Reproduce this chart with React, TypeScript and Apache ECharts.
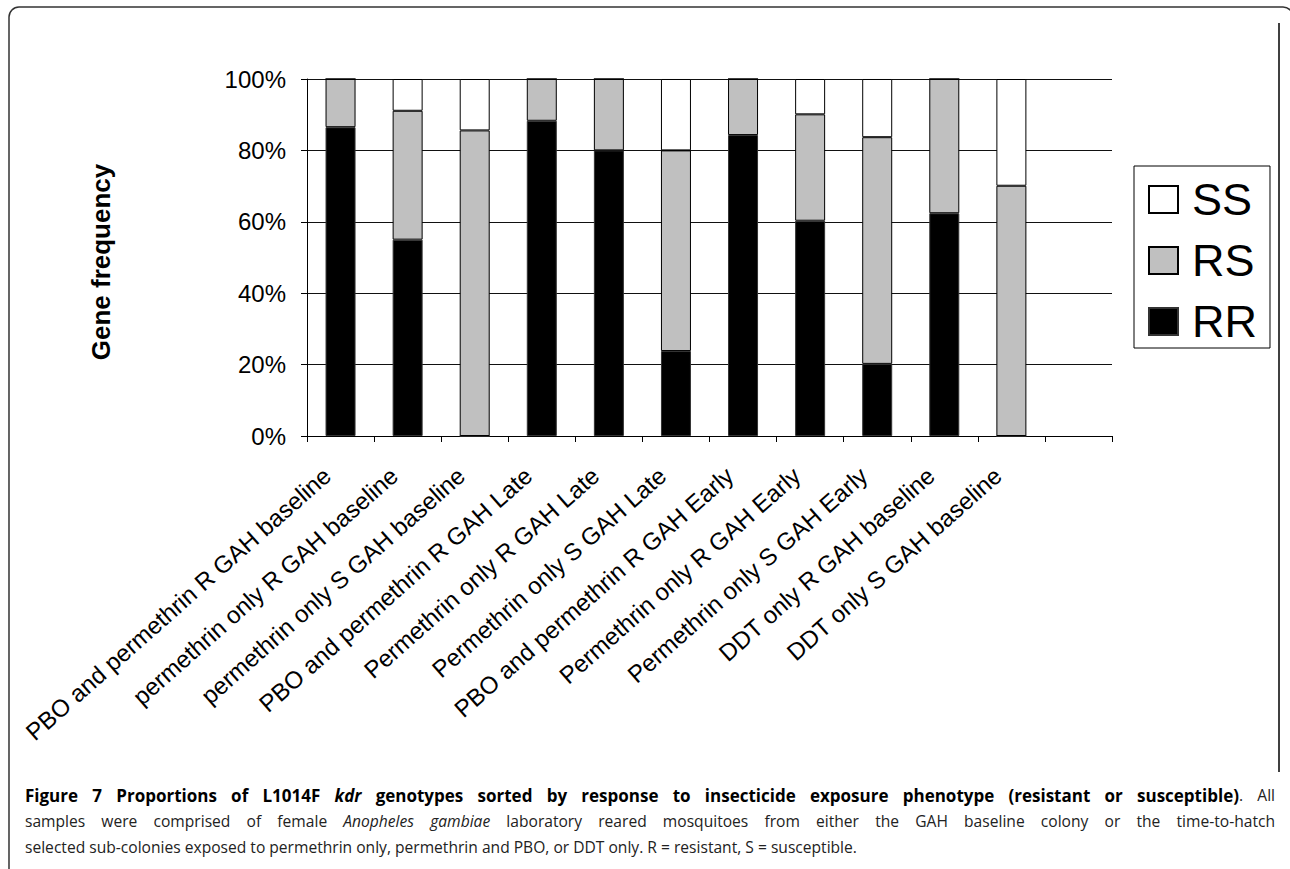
import React, { useEffect, useRef } from "react";
import * as echarts from "echarts";

// ---------- data ----------
const categories = [
  "PBO and permethrin R GAH baseline",
  "permethrin only R GAH baseline",
  "permethrin only S GAH baseline",
  "PBO and permethrin R GAH Late",
  "Permethrin only R GAH Late",
  "Permethrin only S GAH Late",
  "PBO and permethrin R GAH Early",
  "Permethrin only R GAH Early",
  "Permethrin only S GAH Early",
  "DDT only R GAH baseline",
  "DDT only S GAH baseline",
  "",
];
const rrValues = [86.5, 55, 0, 88.3, 80, 23.8, 84.3, 60.3, 20.2, 62.4, 0, null];
const rsValues = [13.5, 36.1, 85.6, 11.7, 20, 56.2, 15.7, 29.8, 63.5, 37.6, 70.1, null];
const ssValues = [0, 8.9, 14.4, 0, 0, 20, 0, 9.9, 16.3, 0, 29.9, null];
const yTickLabels = ["0%", "20%", "40%", "60%", "80%", "100%"];
const legendOrder = ["SS", "RS", "RR"];
const yAxisTitle = "Gene frequency";

// caption runs: s = style key (b bold, i italic, n normal)
const captionLines = [
  [
    { t: "Figure 7 Proportions of L1014F ", s: "b" },
    { t: "kdr", s: "bi" },
    { t: " genotypes sorted by response to insecticide exposure phenotype (resistant or susceptible)", s: "b" },
    { t: ". All", s: "n" },
  ],
  [
    { t: "samples were comprised of female ", s: "n" },
    { t: "Anopheles gambiae", s: "i" },
    { t: " laboratory reared mosquitoes from either the GAH baseline colony or the time-to-hatch", s: "n" },
  ],
  [
    { t: "selected sub-colonies exposed to permethrin only, permethrin and PBO, or DDT only. R = resistant, S = susceptible.", s: "n" },
  ],
];

// ---------- layout constants ----------
const ARIAL = '"Liberation Sans", Arial, Helvetica, sans-serif';
const CAP_FAMILY = '"Open Sans", "DejaVu Sans", sans-serif';
const CAP_SIZE_NORMAL = 15.6;
const CAP_SIZE_BOLD = 17;
const CAP_X = 25;
const CAP_W = 1250;
const CAP_Y = [795, 821, 847];

function capFont(s: string) {
  const ital = s.includes("i") ? "italic" : "normal";
  const bold = s.includes("b");
  const size = bold ? CAP_SIZE_BOLD : CAP_SIZE_NORMAL;
  return `${ital} ${bold ? "bold" : "normal"} ${size}px ${CAP_FAMILY}`;
}

function buildCaption(): any[] {
  const canvas = document.createElement("canvas");
  const ctx = canvas.getContext("2d");
  const measure = (t: string, s: string) => {
    if (!ctx) return t.length * CAP_SIZE_NORMAL * 0.5;
    ctx.font = capFont(s);
    return ctx.measureText(t).width;
  };
  const els: any[] = [];
  captionLines.forEach((runs, li) => {
    const words: { t: string; s: string }[][] = [];
    let cur: { t: string; s: string }[] = [];
    runs.forEach((r) => {
      const parts = r.t.split(" ");
      parts.forEach((p, i) => {
        if (i > 0) {
          if (cur.length) words.push(cur);
          cur = [];
        }
        if (p) cur.push({ t: p, s: r.s });
      });
    });
    if (cur.length) words.push(cur);
    const widths = words.map((w) => w.reduce((a, p) => a + measure(p.t, p.s), 0));
    const total = widths.reduce((a, b) => a + b, 0);
    const justify = li < captionLines.length - 1;
    const gap = justify ? (CAP_W - total) / (words.length - 1) : measure(" ", "n");
    let x = CAP_X;
    words.forEach((w, wi) => {
      let px = x;
      w.forEach((p) => {
        els.push({
          type: "text",
          x: px,
          y: CAP_Y[li],
          silent: true,
          style: {
            text: p.t,
            font: capFont(p.s),
            fill: p.s.includes("b") ? "#000" : "#222",
            textAlign: "left",
            textVerticalAlign: "middle",
          },
        });
        px += measure(p.t, p.s);
      });
      x += widths[wi] + gap;
    });
  });
  return els;
}

export default function App() {
  const ref = useRef<HTMLDivElement>(null);

  useEffect(() => {
    const el = ref.current;
    if (!el) return;
    const chart = echarts.init(el, null, { renderer: "svg" });

    const barCommon = {
      type: "bar",
      stack: "genotype",
      barWidth: 30,
    };

    const option: any = {
      animation: false,
      backgroundColor: "#fff",
      grid: { left: 307, top: 79, right: 178, bottom: 433, containLabel: false },
      legend: {
        data: legendOrder,
        orient: "vertical",
        left: 1134,
        top: 166,
        padding: [11, 13, 4, 14],
        itemWidth: 29,
        itemHeight: 27,
        itemGap: 16,
        icon: "rect",
        borderColor: "#000",
        borderWidth: 1,
        backgroundColor: "#fff",
        selectedMode: false,
        textStyle: {
          fontSize: 45,
          lineHeight: 45,
          fontFamily: ARIAL,
          color: "#000",
          padding: [0, 0, 0, 9],
        },
      },
      xAxis: {
        type: "category",
        data: categories,
        boundaryGap: true,
        axisLine: { show: true, lineStyle: { color: "#000", width: 1 } },
        axisTick: { show: true, length: 6, alignWithLabel: false, interval: 0, lineStyle: { color: "#000" } },
        axisLabel: {
          interval: 0,
          rotate: 41.5,
          margin: 24,
          fontSize: 24,
          fontFamily: ARIAL,
          color: "#000",
          padding: [0, 18, 0, 0],
        },
        splitLine: { show: false },
      },
      yAxis: {
        type: "value",
        min: 0,
        max: 100,
        interval: 20,
        axisLine: { show: true, lineStyle: { color: "#000", width: 1 } },
        axisTick: { show: true, length: 6, lineStyle: { color: "#000" } },
        axisLabel: {
          formatter: (v: number) => yTickLabels[Math.round(v / 20)],
          fontSize: 24,
          margin: 21,
          fontFamily: ARIAL,
          color: "#000",
        },
        splitLine: { show: true, lineStyle: { color: "#111", width: 1 } },
      },
      series: [
        { ...barCommon, name: "RR", data: rrValues, itemStyle: { color: "#000", borderColor: "#333", borderWidth: 1 } },
        { ...barCommon, name: "RS", data: rsValues, itemStyle: { color: "#c0c0c0", borderColor: "#000", borderWidth: 1 } },
        { ...barCommon, name: "SS", data: ssValues, itemStyle: { color: "#fff", borderColor: "#000", borderWidth: 1 } },
      ],
      graphic: [
        {
          type: "rect",
          silent: true,
          shape: { x: 9, y: 7, width: 1284, height: 872, r: 10 },
          style: { fill: "none", stroke: "#333", lineWidth: 1.5 },
        },
        {
          type: "line",
          silent: true,
          shape: { x1: 1279, y1: 23, x2: 1279, y2: 772 },
          style: { stroke: "#000", lineWidth: 1.5 },
        },
        {
          type: "text",
          silent: true,
          x: 101,
          y: 262,
          rotation: Math.PI / 2,
          style: {
            text: yAxisTitle,
            font: `bold 26px ${ARIAL}`,
            fill: "#000",
            textAlign: "center",
            textVerticalAlign: "middle",
          },
        },
        ...buildCaption(),
      ],
    };

    chart.setOption(option);
    return () => chart.dispose();
  }, []);

  return (
    <div
      ref={ref}
      style={{ position: "fixed", left: 0, top: 0, width: 1290, height: 869, background: "#fff" }}
    />
  );
}
